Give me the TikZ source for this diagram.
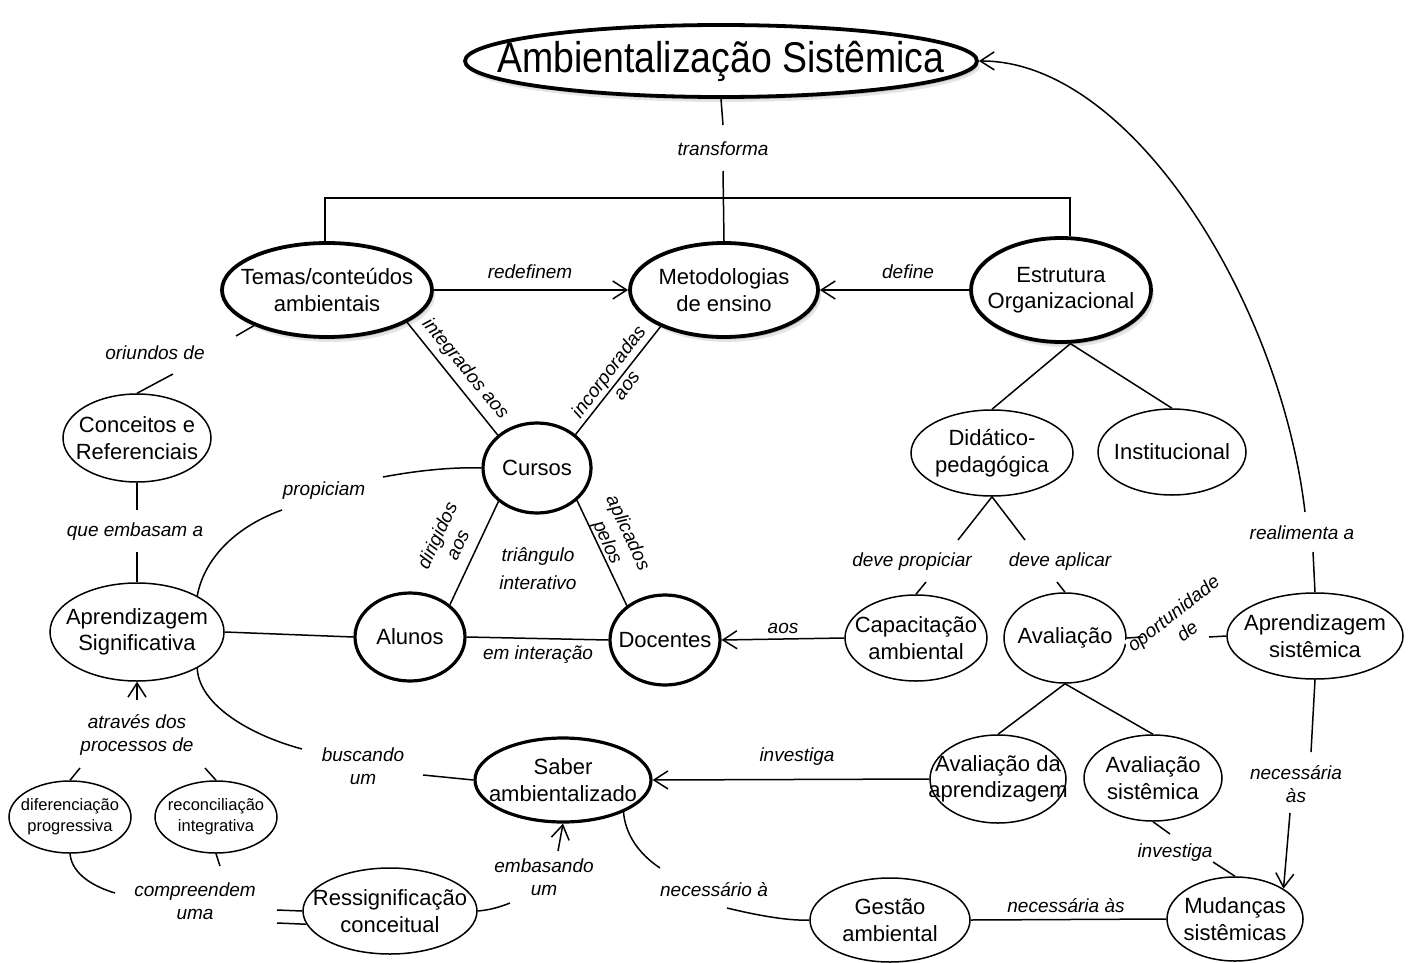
\documentclass[tikz,border=0pt]{standalone}
\usepackage{fontspec}
\usepackage{graphicx}
\setmainfont{Liberation Sans}
\usetikzlibrary{shapes.geometric,arrows.meta,shadows}
\newcommand\nfont{\fontsize{22}{26.5}\selectfont}
\newcommand\lfont{\fontsize{19}{22.5}\selectfont\itshape}
\newcommand\sfont{\fontsize{16.5}{21}\selectfont}
\newcommand\tfont{\fontsize{43}{48}\selectfont}
\tikzset{
  ntext/.style={font=\nfont, align=center, inner sep=0pt},
  txt/.style={label={[ntext]center:#1}},
  stxt/.style={label={[ntext,font=\sfont]center:#1}},
  cnode/.style={ellipse, draw, line width=1.5pt, inner sep=0pt, fill=white},
  strong/.style={cnode, line width=3.2pt},
  heavy/.style={cnode, line width=3.8pt,
    drop shadow={shadow xshift=1.5pt, shadow yshift=-2.5pt, opacity=0.16, fill=black},
    drop shadow={shadow xshift=3pt, shadow yshift=-5pt, opacity=0.10, fill=black}},
  lab/.style={font=\lfont, align=center, inner sep=1pt},
  conn/.style={line width=1.5pt},
  arr/.style={conn, -{Straight Barb[length=14pt, width=18pt]}},
}
\begin{document}
\begin{tikzpicture}[x=1pt,y=-1pt]
\fill[white] (0,0) rectangle (1410,963);
\useasboundingbox (0,0) rectangle (1410,963);

% ---- concept nodes
\node[heavy, minimum width=512pt, minimum height=72pt, label={[ntext,font=\tfont]center:\scalebox{0.87}[1]{Ambientalização Sistêmica}}] (title) at (721,61) {};
\node[heavy, minimum width=210pt, minimum height=94pt, txt={Temas/conteúdos\\ambientais}] (temas) at (327,290) {};
\node[heavy, minimum width=188pt, minimum height=94pt, txt={Metodologias\\de ensino}] (metod) at (724,290) {};
\node[heavy, minimum width=180pt, minimum height=104pt, txt={Estrutura\\Organizacional}] (estrutura) at (1061,290) {};
\node[strong, minimum width=108pt, minimum height=90pt, txt={Cursos}] (cursos) at (537,468) {};
\node[strong, minimum width=110pt, minimum height=88pt, txt={Alunos}] (alunos) at (410,637) {};
\node[strong, minimum width=110pt, minimum height=90pt, txt={Docentes}] (docentes) at (665,640) {};
\node[strong, minimum width=176pt, minimum height=84pt, txt={Saber\\ambientalizado}] (saber) at (563,780) {};
\node[cnode, minimum width=162pt, minimum height=86pt, txt={Didático-\\pedagógica}] (didat) at (992,453) {};
\node[cnode, minimum width=148pt, minimum height=86pt, txt={Institucional}] (instit) at (1172,452) {};
\node[cnode, minimum width=142pt, minimum height=86pt, txt={Capacitação\\ambiental}] (capac) at (916,638) {};
\node[cnode, minimum width=122pt, minimum height=90pt, txt={Avaliação}] (aval) at (1065,638) {};
\node[cnode, minimum width=176pt, minimum height=86pt, txt={Aprendizagem\\sistêmica}] (aprsis) at (1315,636) {};
\node[cnode, minimum width=138pt, minimum height=86pt, txt={Avaliação\\sistêmica}] (avalsis) at (1153,778) {};
\node[cnode, minimum width=136pt, minimum height=88pt, txt={Avaliação da\\aprendizagem}] (avalap) at (998,779) {};
\node[cnode, minimum width=136pt, minimum height=84pt, txt={Mudanças\\sistêmicas}] (mud) at (1235,919) {};
\node[cnode, minimum width=160pt, minimum height=84pt, txt={Gestão\\ambiental}] (gestao) at (890,920) {};
\node[cnode, minimum width=174pt, minimum height=86pt, txt={Ressignificação\\conceitual}] (ressig) at (390,911) {};
\node[cnode, minimum width=148pt, minimum height=88pt, txt={Conceitos e\\Referenciais}] (conceitos) at (137,438) {};
\node[cnode, minimum width=174pt, minimum height=98pt, txt={Aprendizagem\\Significativa}] (aprsig) at (137,632) {};
\node[cnode, minimum width=122pt, minimum height=72pt, stxt={diferenciação\\progressiva}] (difer) at (70,817) {};
\node[cnode, minimum width=122pt, minimum height=72pt, stxt={reconciliação\\integrativa}] (reconc) at (216,817) {};

% ---- linking phrases
\node[lab] (l-transf) at (723,149) {transforma};
\node[lab] (l-redef) at (530,272) {redefinem};
\node[lab] (l-define) at (908,272) {define};
\node[lab, rotate=-50.5] (l-integr) at (465,369) {integrados aos};
\node[lab, rotate=53] (l-incorp) at (617,378) {incorporadas\\aos};
\node[lab, rotate=65] (l-dirig) at (447,540) {dirigidos\\aos};
\node[lab, rotate=-65] (l-aplic) at (617,538) {aplicados\\pelos};
\node[lab, font=\fontsize{19}{28}\selectfont\itshape] (l-triang) at (538,569) {triângulo\\interativo};
\node[lab] (l-eminter) at (538,655) {em interação};
\node[lab] (l-propic) at (324,491) {propiciam};
\node[lab] (l-embasam) at (135,532) {que embasam a};
\node[lab] (l-oriund) at (155,353) {oriundos de};
\node[lab] (l-buscando) at (363,766) {buscando\\um};
\node[lab] (l-atraves) at (137,735) {através dos\\processos de};
\node[lab] (l-compr) at (195,901) {compreendem\\uma};
\node[lab] (l-embasando) at (544,877) {embasando\\um};
\node[lab] (l-invest1) at (797,757) {investiga};
\node[lab] (l-necess1) at (714,890) {necessário à};
\node[lab] (l-necess2) at (1066,906) {necessária às};
\node[lab] (l-invest2) at (1175,853) {investiga};
\node[lab] (l-necess3) at (1296,784) {necessária\\às};
\node[lab, rotate=38, fill=white] (l-oport) at (1180,622) {oportunidade\\de};
\node[lab] (l-realim) at (1302,533) {realimenta a};
\node[lab] (l-devprop) at (912,562) {deve propiciar};
\node[lab] (l-devapl) at (1060,562) {deve aplicar};
\node[lab] (l-aos) at (783,628) {aos};

% ---- free ends next to the linking phrases
\coordinate (t1) at (723,125);
\coordinate (t2) at (723,171);
\coordinate (bl) at (325,198);
\coordinate (br) at (1070,198);
\coordinate (dp1) at (958,540);
\coordinate (da1) at (1025,540);
\coordinate (dp2) at (926,582);
\coordinate (da2) at (1057,582);
\coordinate (op1) at (1143,637);
\coordinate (op2) at (1209,637);
\coordinate (re1) at (1313,552);
\coordinate (re2) at (1305,512);
\coordinate (ns1) at (1311,752);
\coordinate (ns2) at (1290,813);
\coordinate (iv1) at (1170,834);
\coordinate (iv2) at (1213,862);
\coordinate (na1) at (660,868);
\coordinate (na2) at (727,908);
\coordinate (bu1) at (302,749);
\coordinate (bu2) at (423,775);
\coordinate (pr1) at (282,510);
\coordinate (pr2) at (383,477);
\coordinate (qe1) at (137,510);
\coordinate (qe2) at (137,552);
\coordinate (or1) at (173,374);
\coordinate (or2) at (236,336);
\coordinate (at0) at (137,700);
\coordinate (at1) at (80,768);
\coordinate (at2) at (205,768);
\coordinate (cu1) at (115,893);
\coordinate (cu2) at (220,866);
\coordinate (cu3) at (277,910);
\coordinate (cu4) at (277,923);
\coordinate (eb1) at (510,903);
\coordinate (eb2) at (558,851);

% ---- connectors
\draw[conn] (title.south) -- (t1);
\draw[conn] (t2) -- (metod.north);
\draw[conn] (temas.north -| bl) -- (bl) -- (br) -- (estrutura.north -| br);
\draw[arr] (temas.east) -- (metod.west);
\draw[arr] (estrutura.west) -- (metod.east);
\draw[conn] (temas.-22) -- (cursos.140);
\draw[conn] (metod.210) -- (cursos.41);
\draw[conn] (cursos.221) -- (alunos.39);
\draw[conn] (cursos.-39) -- (docentes.138);
\draw[conn] (alunos.east) -- (docentes.west);
\draw[arr] (capac.west) -- (docentes.east);
\draw[conn] (estrutura.-80) -- (didat.north);
\draw[conn] (estrutura.-80) -- (instit.north);
\draw[conn] (didat.south) -- (dp1);
\draw[conn] (didat.south) -- (da1);
\draw[conn] (dp2) -- (capac.north);
\draw[conn] (da2) -- (aval.north);
\draw[conn] (aval.south) -- (avalap.north);
\draw[conn] (aval.south) -- (avalsis.north);
\draw[conn] (aval.east) -- (op1);
\draw[conn] (op2) -- (aprsis.west);
\draw[conn] (aprsis.north) -- (re1);
\draw[arr] (re2) .. controls (1280,300) and (1130,60) .. (title.east);
\draw[conn] (aprsis.south) -- (ns1);
\draw[arr] (ns2) -- (mud.32);
\draw[conn] (avalsis.south) -- (iv1);
\draw[conn] (iv2) -- (mud.north);
\draw[conn] (gestao.east) -- (mud.west);
\draw[arr] (avalap.west) -- (saber.east);
\draw[conn] (saber.-28) .. controls (626,840) and (645,858) .. (na1);
\draw[conn] (na2) .. controls (760,916) and (790,921) .. (gestao.west);
\draw[conn] (aprsig.-31) .. controls (199,705) and (250,735) .. (bu1);
\draw[conn] (bu2) -- (saber.west);
\draw[conn] (aprsig.31) .. controls (205,555) and (240,525) .. (pr1);
\draw[conn] (pr2) .. controls (420,470) and (455,467) .. (cursos.west);
\draw[conn] (aprsig.east) -- (alunos.west);
\draw[conn] (conceitos.south) -- (qe1);
\draw[conn] (qe2) -- (aprsig.north);
\draw[conn] (conceitos.north) -- (or1);
\draw[conn] (or2) -- (temas.206);
\draw[arr] (at0) -- (aprsig.south);
\draw[conn] (at1) -- (difer.north);
\draw[conn] (at2) -- (reconc.north);
\draw[conn] (difer.south) .. controls (72,875) and (95,887) .. (cu1);
\draw[conn] (reconc.south) -- (cu2);
\draw[conn] (cu3) -- (ressig.west);
\draw[conn] (cu4) -- (ressig.189);
\draw[conn] (ressig.east) .. controls (490,910) and (500,907) .. (eb1);
\draw[arr] (eb2) -- (saber.south);
\end{tikzpicture}
\end{document}
